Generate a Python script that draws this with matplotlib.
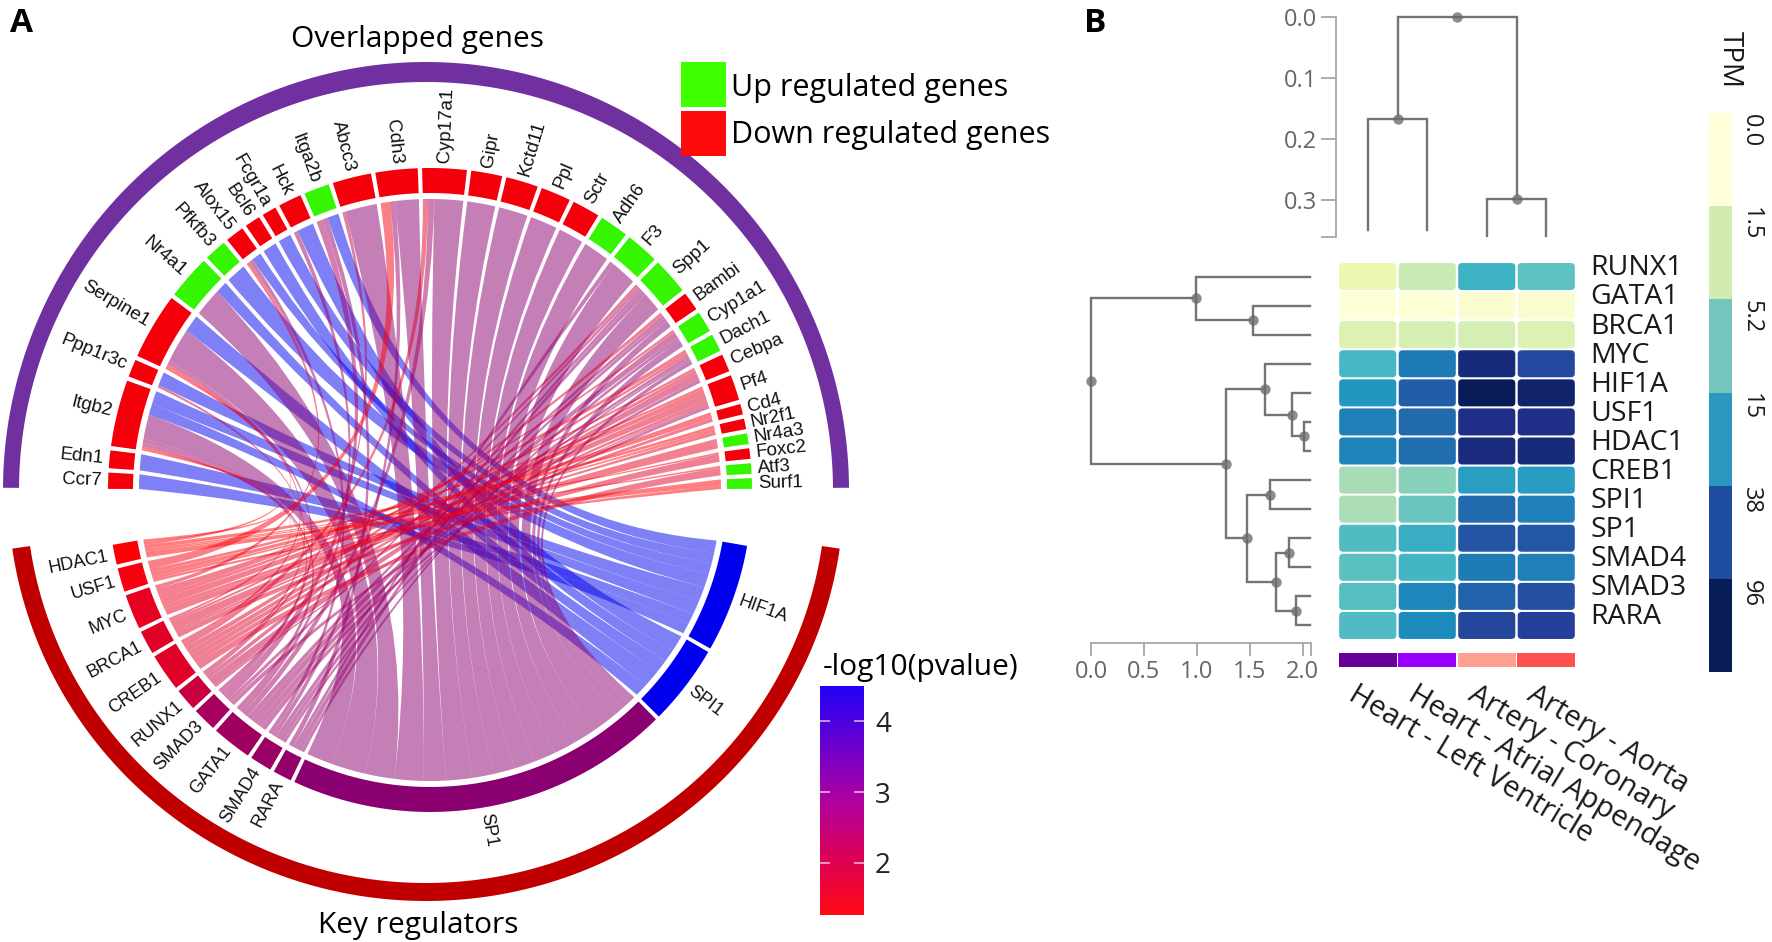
import numpy as np
import matplotlib
matplotlib.use("Agg")
import matplotlib.pyplot as plt
from matplotlib.colors import LinearSegmentedColormap, ListedColormap, FuncNorm
from matplotlib.patches import FancyBboxPatch, PathPatch, Rectangle
from matplotlib.path import Path

W, H = 1772, 942

# panel A : genes on the top half, clockwise from the left
genes = ["Ccr7", "Edn1", "Itgb2", "Ppp1r3c", "Serpine1", "Nr4a1", "Pfkfb3", "Alox15", "Bcl6", "Fcgr1a", "Hck",
         "Itga2b", "Abcc3", "Cdh3", "Cyp17a1", "Gipr", "Kctd11", "Ppl", "Sctr", "Adh6", "F3", "Spp1", "Bambi",
         "Cyp1a1", "Dach1", "Cebpa", "Pf4", "Cd4", "Nr2f1", "Nr4a3", "Foxc2", "Atf3", "Surf1"]
gene_span = [2.9, 3.2, 12, 3.2, 12, 8, 4, 3.4, 2.8, 2.6, 4.2, 4.6, 7, 7.6, 8, 5.6, 5.8, 5.4, 5, 5.2, 6, 6.6, 3.4,
             3.8, 3.2, 3.2, 4.6, 1.9, 1.9, 1.9, 1.9, 1.9, 1.9]
up_genes = ["Nr4a1", "Pfkfb3", "Itga2b", "Adh6", "F3", "Spp1", "Cyp1a1", "Dach1", "Nr4a3", "Atf3", "Surf1"]

# regulators on the bottom half, clockwise from the right
regulators = ["HIF1A", "SPI1", "SP1", "RARA", "SMAD4", "GATA1", "SMAD3", "RUNX1", "CREB1", "BRCA1", "MYC", "USF1", "HDAC1"]
regulator_span = [19.5, 14.5, 69.5, 3.4, 4, 7.2, 4.3, 4, 6.8, 4.3, 6.3, 4.3, 3.6]
regulator_colors = ["#0000ee", "#0000ee", "#8b0070", "#94006a", "#9a0066", "#a00060", "#a80060", "#c80040",
                    "#e00028", "#e00028", "#e80020", "#f80010", "#ff0005"]

# link sizes per regulator
hif1a_links = {"Ccr7": 2.4, "Edn1": 2.5, "Itgb2": 3, "Ppp1r3c": 3.4, "Pfkfb3": 3.2, "Alox15": 2.4, "Fcgr1a": 2.4, "Itga2b": 2.8}
spi1_links = {"Itgb2": 2.5, "Serpine1": 3.5, "Nr4a1": 2.5, "Bcl6": 2.4, "Hck": 3.2}
sp1_links = {"Itgb2": 5.5, "Serpine1": 7, "Nr4a1": 6, "Abcc3": 6, "Cdh3": 4.5, "Cyp17a1": 5.5, "Gipr": 4.4, "Kctd11": 4.4,
             "Ppl": 4.4, "Sctr": 4.4, "Adh6": 4.6, "F3": 4.6, "Spp1": 5.5, "Bambi": 2, "Cyp1a1": 1.6, "Dach1": 1.5}
rara_links = {"Itga2b": 1.2, "F3": 0.8, "Spp1": 1.2, "Cyp1a1": 0.8}
smad4_links = {"Alox15": 1, "Cdh3": 1, "Spp1": 1, "Bambi": 1, "Dach1": 0.7}
gata1_links = {"Itgb2": 1, "Hck": 0.8, "Cyp17a1": 1.2, "Cyp1a1": 1.5, "Dach1": 1.2, "Bambi": 1, "Cebpa": 1}
smad3_links = {"Itgb2": 0.7, "Itga2b": 1.6, "Serpine1": 0.8, "Spp1": 0.8, "Pf4": 1}
runx1_links = {"Spp1": 1, "Cebpa": 2, "Ppp1r3c": 0.6, "Abcc3": 0.6, "Pf4": 0.5}
creb1_links = {"Cyp17a1": 1, "Bambi": 1, "Atf3": 1.3, "Cebpa": 1, "Dach1": 1, "Pf4": 1, "Serpine1": 0.6}
brca1_links = {"Pf4": 2, "Foxc2": 1.3, "Cd4": 0.6, "Cyp1a1": 0.6, "Itgb2": 0.5}
myc_links = {"Alox15": 0.8, "Dach1": 1.4, "Pf4": 1.5, "Nr4a3": 1.3, "Nr2f1": 0.8, "Cebpa": 0.8}
usf1_links = {"Cdh3": 1.8, "Cd4": 1, "Surf1": 0.6, "Nr2f1": 0.6, "Pf4": 0.8}
hdac1_links = {"Serpine1": 0.5, "Nr2f1": 0.8, "Surf1": 1, "Atf3": 0.3, "Foxc2": 0.3, "Itgb2": 0.5}
all_links = [hif1a_links, spi1_links, sp1_links, rara_links, smad4_links, gata1_links, smad3_links, runx1_links,
             creb1_links, brca1_links, myc_links, usf1_links, hdac1_links]

pvalue_ticks = [2, 3, 4]
pvalue_range = [1.26, 4.5]
pvalue_colors = ["#ff0a14", "#dc0058", "#b000a0", "#6800d0", "#2200f5"]

# panel B
rows = ["RUNX1", "GATA1", "BRCA1", "MYC", "HIF1A", "USF1", "HDAC1", "CREB1", "SPI1", "SP1", "SMAD4", "SMAD3", "RARA"]
tissues = ["Heart - Left Ventricle", "Heart - Atrial Appendage", "Artery - Coronary", "Artery - Aorta"]
tissue_colors = ["#660099", "#9900ff", "#ffa090", "#ff5050"]
tpm = [[0.81, 2.0, 9.3, 6.5],
       [0.05, 0.1, 0.15, 0.15],
       [1.28, 1.5, 1.61, 1.28],
       [8.4, 21.4, 69, 40],
       [15.2, 29.8, 96, 79],
       [20, 26, 60, 60],
       [19.6, 24.8, 66, 69],
       [3.1, 4.2, 13.2, 13.8],
       [2.9, 5.8, 26, 20],
       [7.6, 10.3, 34, 33],
       [6.8, 8.8, 21.4, 20],
       [7.2, 18.5, 28, 36],
       [7.6, 17.6, 41, 45]]
tpm_labels = ["0.0", "1.5", "5.2", "15", "38", "96"]
tpm_colors = ["#ffffd9", "#d1ebb0", "#74c6bc", "#2b97c0", "#1e4c9e", "#081d58"]

# trees: (height, left, right), a plain int is a leaf
row_tree = (0.0, (0.993, 0, (1.53, 1, 2)),
            (1.276, (1.645, 3, (1.90, 4, (2.015, 5, 6))),
             (1.475, (1.69, 7, 8), (1.75, (1.87, 9, 10), (1.94, 11, 12)))))
row_leaf_end = [2.075] * 13
col_tree = (0.0, (0.167, 0, 1), (0.298, 2, 3))
col_leaf_end = [0.348, 0.348, 0.359, 0.359]

plt.rcParams["font.family"] = ["Open Sans", "DejaVu Sans"]
fig = plt.figure(figsize=(W / 100, H / 100), dpi=100)


def px_axes(x0, y0, x1, y1):
    return fig.add_axes([x0 / W, 1 - y1 / H, (x1 - x0) / W, (y1 - y0) / H])


ax = fig.add_axes([0, 0, 1, 1])
ax.set_xlim(0, W)
ax.set_ylim(H, 0)
ax.axis("off")

# chord geometry in pixels
cx, cy = 430, 490
r_out, r_in, r_link = 322, 297, 291
ctrl = (cx - 4, cy + 25)  # the links bunch up a bit under the centre


def pt(a, r, x0=cx, y0=cy, ry=None):
    a = np.radians(a)
    return x0 + r * np.cos(a), y0 - (r if ry is None else ry) * np.sin(a)


def ring(a0, a1, color):
    t = np.linspace(a0, a1, 40)
    xo, yo = pt(t, r_out)
    xi, yi = pt(t[::-1], r_in)
    ax.fill(np.r_[xo, xi], np.r_[yo, yi], color=color, lw=0)


def big_arc(a0, a1, rx0, ry0, rx1, ry1, color):
    t = np.linspace(a0, a1, 200)
    xo, yo = pt(t, rx0, 426, 490, ry0)
    xi, yi = pt(t[::-1], rx1, 426, 490, ry1)
    ax.fill(np.r_[xo, xi], np.r_[yo, yi], color=color, lw=0)


def sector_label(name, a, size):
    x, y = pt(a, r_out + 6)
    right = np.cos(np.radians(a)) >= 0
    ax.text(x, y, name, rotation=a if right else a - 180, rotation_mode="anchor", ha="left" if right else "right",
            va="center", fontsize=size, family="Liberation Sans", color="#111111")


big_arc(179.7, 0.3, 423, 428, 407, 408, "#7030a0")
big_arc(-8.2, -171.8, 418, 411, 400, 393, "#c00000")

# sector positions, clockwise
gene_pos = {}
gap = (179.8 - 0.2 - sum(gene_span)) / (len(genes) - 1)
a = 179.8
for g, s in zip(genes, gene_span):
    gene_pos[g] = (a, a - s)
    ring(a, a - s, "#36f500" if g in up_genes else "#f5000a")
    sector_label(g, a - s / 2, 13.5)
    a -= s + gap

reg_pos = {}
gap = (170.2 - 10 - sum(regulator_span)) / (len(regulators) - 1)
a = -10
for r, s, c in zip(regulators, regulator_span, regulator_colors):
    reg_pos[r] = (a, a - s)
    ring(a, a - s, c)
    sector_label(r, a - s / 2, 13)
    a -= s + gap

# slot of each link inside its two sectors
gene_total = {g: sum(d.get(g, 0) for d in all_links) for g in genes}
gene_used = {g: 0.0 for g in genes}
reg_arc = {}
for i in range(len(regulators) - 1, -1, -1):
    for g in genes:
        if g in all_links[i]:
            start, end = gene_pos[g]
            w = (start - end) * all_links[i][g] / gene_total[g]
            reg_arc[(g, i)] = (start - gene_used[g], start - gene_used[g] - w)
            gene_used[g] += w

for i, r in enumerate(regulators):
    start, end = reg_pos[r]
    total = sum(all_links[i].values())
    used = 0.0
    for g in genes[::-1]:
        if g not in all_links[i]:
            continue
        w = (start - end) * all_links[i][g] / total
        b0, b1 = start - used, start - used - w
        used += w
        a0, a1 = reg_arc[(g, i)]
        ta = np.linspace(a0, a1, 12)
        tb = np.linspace(b0, b1, 12)
        xa, ya = pt(ta, r_link)
        xb, yb = pt(tb, r_link)
        verts = [(xa[0], ya[0])] + list(zip(xa[1:], ya[1:]))
        codes = [Path.MOVETO] + [Path.LINETO] * 11
        verts += [ctrl, (xb[0], yb[0])] + list(zip(xb[1:], yb[1:]))
        codes += [Path.CURVE3, Path.CURVE3] + [Path.LINETO] * 11
        verts += [ctrl, (xa[0], ya[0])]
        codes += [Path.CURVE3, Path.CURVE3]
        ax.add_patch(PathPatch(Path(verts, codes), facecolor=regulator_colors[i], edgecolor="none", alpha=0.5))

# legend and titles of panel A
ax.add_patch(Rectangle((681, 62), 45, 45, color="#40ff00", lw=0))
ax.add_patch(Rectangle((681, 111), 45, 45, color="#ff0a0a", lw=0))
ax.text(731, 88, "Up regulated genes", fontsize=22, va="center")
ax.text(731, 135, "Down regulated genes", fontsize=22, va="center")
ax.text(418, 40, "Overlapped genes", fontsize=21.5, ha="center", va="center")
ax.text(418, 925, "Key regulators", fontsize=21.5, ha="center", va="center")
ax.text(921, 668, "-log10(pvalue)", fontsize=21.5, ha="center", va="center")
ax.text(10, 24, "A", fontsize=24, fontweight="bold", va="center")
ax.text(1084, 24, "B", fontsize=24, fontweight="bold", va="center")

# p value colour bar
ax_p = px_axes(820, 686, 864, 915)
cmap_p = LinearSegmentedColormap.from_list("pval", pvalue_colors)
ax_p.imshow(np.linspace(1, 0, 256)[:, None], cmap=cmap_p, aspect="auto",
            extent=[0, 1, pvalue_range[0], pvalue_range[1]])
ax_p.set_xticks([])
ax_p.set_yticks(pvalue_ticks)
ax_p.yaxis.tick_right()
ax_p.tick_params(axis="y", length=0, pad=8, labelsize=20, labelcolor="#222222")
ax_p.hlines(pvalue_ticks, 0, 0.22, color="white", lw=1.2, alpha=0.7)
ax_p.hlines(pvalue_ticks, 0.78, 1, color="white", lw=1.2, alpha=0.7)
for s in ax_p.spines.values():
    s.set_visible(False)

# heatmap
ax_h = px_axes(1338, 262, 1576, 640)
ax_h.set_xlim(0, 4)
ax_h.set_ylim(13, 0)
ax_h.axis("off")
norm = FuncNorm((np.log1p, np.expm1), vmin=0, vmax=96)
cmap_h = plt.get_cmap("YlGnBu")
for i, row in enumerate(tpm):
    for j, v in enumerate(row):
        ax_h.add_patch(FancyBboxPatch((j + 0.02, i + 0.035), 0.96, 0.93, mutation_aspect=1.9,
                                      boxstyle="round,pad=0,rounding_size=0.07", facecolor=cmap_h(norm(v)),
                                      edgecolor="none"))
    ax_h.text(4.24, i + 0.22, rows[i], fontsize=20.5, va="center", ha="left", clip_on=False, color="#1a1a1a")

# tissue strip and labels
ax_c = px_axes(1338, 653, 1576, 667)
ax_c.set_xlim(0, 4)
ax_c.set_ylim(0, 1)
ax_c.axis("off")
ax_c.bar(np.arange(4) + 0.5, [1] * 4, width=0.97, color=tissue_colors)
for j, t in enumerate(tissues):
    ax_c.text(j + 0.35, -0.95, t, rotation=-31, rotation_mode="anchor", ha="left", va="top", fontsize=21,
              color="#1a1a1a", clip_on=False)


def draw_tree(axt, node, leaf_end, swap, color="#747474"):
    # returns the position along the leaf axis and the height of this node
    if isinstance(node, int):
        return node + 0.5, leaf_end[node]
    h, left, right = node
    p0, h0 = draw_tree(axt, left, leaf_end, swap, color)
    p1, h1 = draw_tree(axt, right, leaf_end, swap, color)
    xs, ys = [h0, h, h, h1], [p0, p0, p1, p1]
    if not swap:
        xs, ys = ys, xs
    axt.plot(xs, ys, color=color, lw=1.7, solid_joinstyle="miter", clip_on=False)
    mid = (p0 + p1) / 2
    axt.plot(h if swap else mid, mid if swap else h, "o", ms=7.5, color="#666666", alpha=0.75, mew=0, clip_on=False)
    return mid, h


# top tree
ax_t = px_axes(1338, 17, 1576, 237)
ax_t.set_xlim(0, 4)
ax_t.set_ylim(0.36, 0)
draw_tree(ax_t, col_tree, col_leaf_end, False)
ax_t.set_xticks([])
ax_t.set_yticks([0, 0.1, 0.2, 0.3, 0.36], ["0.0", "0.1", "0.2", "0.3", ""])
for s in ["top", "right", "bottom"]:
    ax_t.spines[s].set_visible(False)
ax_t.spines["left"].set_position(("outward", 1.5))
ax_t.spines["left"].set_color("#a6a6a6")
ax_t.spines["left"].set_linewidth(1.3)
ax_t.tick_params(axis="y", length=10.5, width=1.3, color="#a6a6a6", labelcolor="#666666", labelsize=17, pad=3)
ax_t.patch.set_alpha(0)

# left tree
ax_l = px_axes(1091, 262, 1311, 640)
ax_l.set_xlim(0, 2.08)
ax_l.set_ylim(13, 0)
draw_tree(ax_l, row_tree, row_leaf_end, True)
ax_l.set_yticks([])
ax_l.set_xticks([0, 0.5, 1, 1.5, 2, 2.08], ["0.0", "0.5", "1.0", "1.5", "2.0", ""])
for s in ["top", "right", "left"]:
    ax_l.spines[s].set_visible(False)
ax_l.spines["bottom"].set_position(("outward", 2.2))
ax_l.spines["bottom"].set_color("#a6a6a6")
ax_l.spines["bottom"].set_linewidth(1.3)
ax_l.tick_params(axis="x", length=9.5, width=1.3, color="#a6a6a6", labelcolor="#666666", labelsize=17, pad=3)
ax_l.patch.set_alpha(0)

# TPM colour bar
ax_b = px_axes(1709, 113, 1732, 672)
ax_b.pcolormesh([0, 1], np.arange(7), np.arange(6)[:, None], cmap=ListedColormap(tpm_colors), vmin=0, vmax=5)
ax_b.set_xlim(0, 1)
ax_b.set_ylim(6, 0)
ax_b.axis("off")
for i, lab in enumerate(tpm_labels):
    ax_b.text(1.83, i + 0.01, lab, rotation=-90, ha="center", va="top", fontsize=17, color="#1a1a1a", clip_on=False)
ax_b.text(0.9, -0.57, "TPM", rotation=-90, ha="center", va="center", fontsize=20, color="#1a1a1a", clip_on=False)

fig.savefig("out.png", dpi=100, facecolor="white")
